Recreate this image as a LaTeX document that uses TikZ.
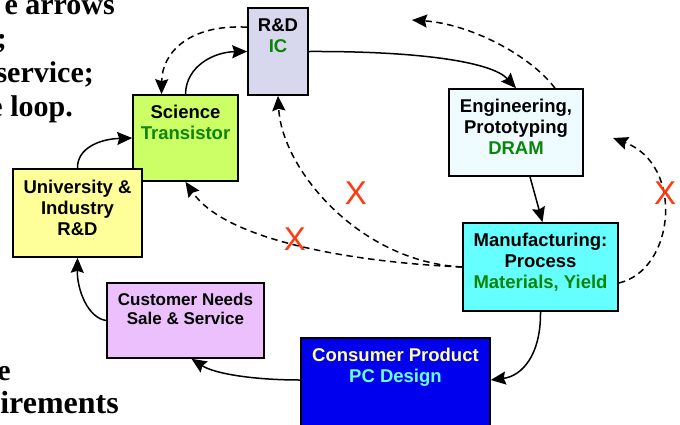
\documentclass[tikz,border=0pt]{standalone}
\usepackage{fontspec}
\setmainfont{Liberation Serif}
\newfontfamily\boxfont{Liberation Sans}
\usetikzlibrary{arrows.meta}

\definecolor{rdfill}{HTML}{D7D7EE}
\definecolor{scifill}{HTML}{CCFF66}
\definecolor{univfill}{HTML}{FFFF99}
\definecolor{engfill}{HTML}{EEFCFF}
\definecolor{mfgfill}{HTML}{66FFFF}
\definecolor{custfill}{HTML}{ECC0FC}
\definecolor{consfill}{HTML}{0000EE}
\definecolor{techgreen}{HTML}{0A850A}
\definecolor{consyellow}{HTML}{FFFF99}
\definecolor{conscyan}{HTML}{66FFFF}
\definecolor{crossred}{HTML}{FF3A10}

% fixed-size box text, first line hung from the top edge
\newcommand{\blocktext}[4][23pt]{\parbox[c][#3][t]{#2}{\centering\rule{0pt}{#1}#4}}

\begin{document}
\begin{tikzpicture}[x=1pt, y=-1pt,
		block/.style={draw=black, line width=1.6pt, inner sep=0pt, font=\boxfont\bfseries\fontsize{18.5pt}{21pt}\selectfont},
		flow/.style={draw, line width=1.5pt, ->},
		feedback/.style={draw, line width=1.5pt, ->, dash pattern=on 6.5pt off 4.5pt},
		note/.style={anchor=base east, inner sep=0pt, font=\bfseries\fontsize{30pt}{34pt}\selectfont},
		cross/.style={inner sep=0pt, text=crossred, font=\boxfont\fontsize{33pt}{33pt}\selectfont},
		>={Stealth[length=15pt, width=13pt, inset=2pt]}]

	\useasboundingbox (0,0) rectangle (680,424);
	\clip (0,0) rectangle (680,424);

	% slide text running off the left edge
	\node[note] (note1) at (115,14) {e arrows};
	\node[note] (note2) at (7,48) {;};
	\node[note] (note3) at (94,82) {service;};
	\node[note] (note4) at (73,116) {e loop.};
	\node[note] (note5) at (11,380) {e};
	\node[note, font=\bfseries\fontsize{32pt}{34pt}\selectfont] (note6) at (119,413) {irements};

	% stages of the cycle
	\node[block, fill=rdfill] (rd) at (278,51.5) {\blocktext{60pt}{87pt}{R\&D\\\textcolor{techgreen}{IC}}};
	\node[block, fill=scifill] (sci) at (185.5,138) {\blocktext{105pt}{86pt}{Science\\\textcolor{techgreen}{Transistor}}};
	\node[block, fill=univfill] (univ) at (77.5,213) {\blocktext[24pt]{129pt}{88pt}{University \&\\Industry\\R\&D}};
	\node[block, fill=engfill] (eng) at (516,132.5) {\blocktext{134pt}{87pt}{Engineering,\\Prototyping\\\textcolor{techgreen}{DRAM}}};
	\node[block, fill=mfgfill] (mfg) at (540.5,267) {\blocktext{155pt}{88pt}{Manufacturing:\\Process\\\textcolor{techgreen}{Materials, Yield}}};
	\node[block, fill=custfill, font=\boxfont\bfseries\fontsize{17pt}{19pt}\selectfont] (cust) at (185.5,320.5) {\blocktext[22pt]{157pt}{75pt}{Customer Needs\\Sale \& Service}};
	\node[block, fill=consfill] (cons) at (395.5,388) {\blocktext{189pt}{100pt}{\textcolor{consyellow}{Consumer Product}\\\textcolor{conscyan}{PC Design}}};

	% main loop
	\draw[flow] (univ.north) .. controls (77,148) and (100,139) .. (sci.west);
	\draw[flow] (sci.north) .. controls (186,66) and (214,52) .. (rd.west);
	\draw[flow] (rd.east) .. controls (420,51) and (492,62) .. (eng.north);
	\draw[flow] ([xshift=14pt]eng.south) -- ([xshift=2pt]mfg.north);
	\draw[flow] (mfg.south) .. controls (541,355) and (522,376) .. ([yshift=8pt]cons.east);
	\draw[flow] ([yshift=8pt]cons.west) .. controls (255,380) and (215,374) .. ([xshift=6pt]cust.south);
	\draw[flow] (cust.west) .. controls (88,318) and (77,290) .. (univ.south);

	% feedback paths
	\coordinate (back1) at (412,20);
	\coordinate (back2) at (613,138);
	\draw[feedback] ([yshift=-20pt]rd.north west) .. controls (190,24) and (162,52) .. ([xshift=-24pt]sci.north);
	\draw[feedback] ([xshift=39pt]eng.north) .. controls (530,55) and (470,24) .. (back1);
	\draw[feedback] ([yshift=-16pt]mfg.east) .. controls (675,270) and (685,165) .. (back2);
	\draw[feedback] (mfg.west) .. controls (360,262) and (282,170) .. (rd.south);
	\draw[feedback] (mfg.west) .. controls (350,262) and (225,240) .. (sci.south);

	% broken links
	\node[cross] (cross1) at (356,193) {X};
	\node[cross] (cross2) at (295,239) {X};
	\node[cross] (cross3) at (665,193) {X};

\end{tikzpicture}
\end{document}
